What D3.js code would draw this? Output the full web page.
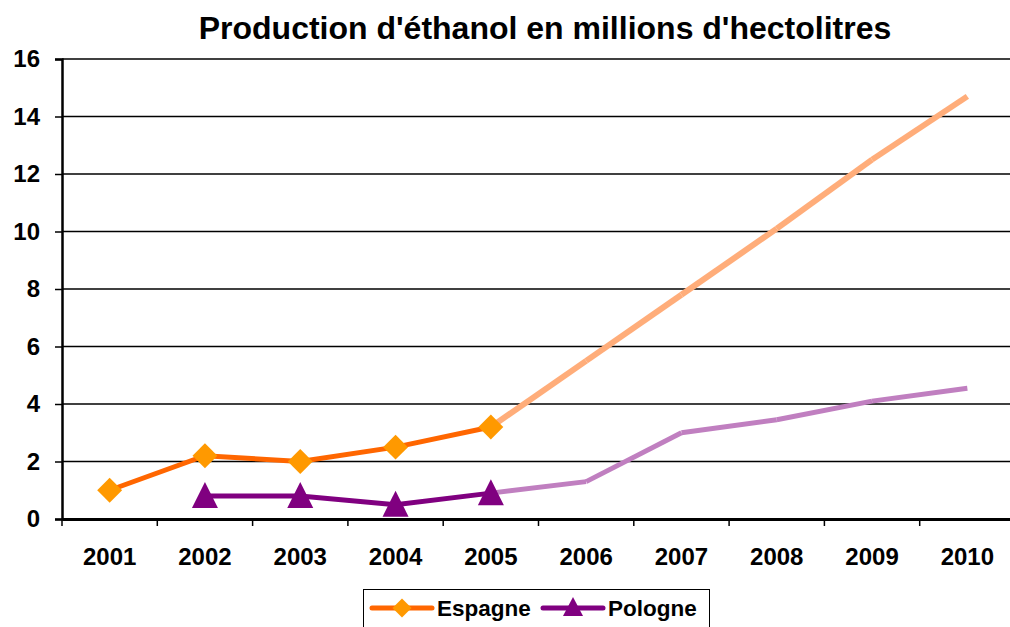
<!DOCTYPE html>
<html>
<head>
<meta charset="utf-8">
<script src="https://cdn.jsdelivr.net/npm/d3@7"></script>
<style>
  html, body { margin: 0; padding: 0; background: #fff; }
  svg { display: block; font-family: "Liberation Sans", Arial, sans-serif; }
</style>
</head>
<body>
<svg id="chart" width="1010" height="627"></svg>
<script>
const title = "Production d'éthanol en millions d'hectolitres";
const years = ["2001","2002","2003","2004","2005","2006","2007","2008","2009","2010"];
const yTicks = [0, 2, 4, 6, 8, 10, 12, 14, 16];
// Observed values (dark line with markers)
const espagneObs = [1.0, 2.2, 2.0, 2.5, 3.2, null, null, null, null, null];
const pologneObs = [null, 0.8, 0.8, 0.5, 0.9, null, null, null, null, null];
// Projected values (light line, no markers), starting at 2005
const espagneProj = [null, null, null, null, 3.2, 5.5, 7.8, 10.1, 12.5, 14.7];
const pologneProj = [null, null, null, null, 0.9, 1.3, 3.0, 3.45, 4.1, 4.55];

const svg = d3.select("#chart");
const margin = { left: 62, right: -5, top: 59, bottom: 108 };
const W = 1010, H = 627;
const FONT = "Liberation Sans, Arial, sans-serif";

const x = d3.scaleBand().domain(years).range([margin.left, W - margin.right]).padding(0);
const y = d3.scaleLinear().domain([0, 16]).range([H - margin.bottom, margin.top]);

// Gridlines
svg.append("g").selectAll("line").data(yTicks.filter(d => d > 0)).join("line")
  .attr("x1", margin.left).attr("x2", W - margin.right)
  .attr("y1", d => y(d)).attr("y2", d => y(d))
  .attr("stroke", "#000").attr("stroke-width", 1.5);

// Y axis
const yAxis = svg.append("g").attr("transform", `translate(${margin.left},0)`)
  .call(d3.axisLeft(y).tickValues(yTicks).tickSize(7).tickPadding(15));
yAxis.select(".domain").attr("stroke", "#000").attr("stroke-width", 2.5);
yAxis.selectAll(".tick line").attr("stroke", "#000").attr("stroke-width", 1.5);
yAxis.selectAll("text").attr("font-size", 24).attr("font-weight", "bold").attr("fill", "#000")
  .attr("font-family", FONT);

// X axis
const xAxis = svg.append("g").attr("transform", `translate(0,${y(0)})`)
  .call(d3.axisBottom(x).tickSize(0).tickPadding(29));
xAxis.select(".domain").attr("stroke", "#000").attr("stroke-width", 3);
xAxis.selectAll("text").attr("font-size", 24).attr("font-weight", "bold").attr("fill", "#000")
  .attr("font-family", FONT);
// tick marks at band boundaries
const boundaries = years.map(d => x(d)).concat([x(years[years.length - 1]) + x.bandwidth()]);
svg.append("g").selectAll("line").data(boundaries).join("line")
  .attr("x1", d => d).attr("x2", d => d)
  .attr("y1", y(0)).attr("y2", y(0) + 7)
  .attr("stroke", "#000").attr("stroke-width", 1.5);

const cx = d => x(d) + x.bandwidth() / 2;

function points(vals) {
  return years.map((yr, i) => ({ yr, v: vals[i] })).filter(p => p.v != null);
}

function drawLine(vals, color, width) {
  const pts = points(vals);
  const line = d3.line().x(p => cx(p.yr)).y(p => y(p.v));
  svg.append("path").datum(pts).attr("d", line)
    .attr("fill", "none").attr("stroke", color).attr("stroke-width", width)
    .attr("stroke-linejoin", "miter");
  return pts;
}

// Segmented (each segment drawn separately, butt ends) for projections
function drawSegments(vals, color, width) {
  const pts = points(vals);
  const segs = d3.pairs(pts);
  svg.append("g").selectAll("path").data(segs).join("path")
    .attr("d", s => d3.line().x(p => cx(p.yr)).y(p => y(p.v))(s))
    .attr("fill", "none").attr("stroke", color).attr("stroke-width", width)
    .attr("stroke-linecap", "butt");
}

// Projections first
drawSegments(espagneProj, "#FFAD7A", 6);
drawSegments(pologneProj, "#C07FC0", 5);

// Observed
const espPts = drawLine(espagneObs, "#FF6600", 5);
const polPts = drawLine(pologneObs, "#800080", 5);

// Markers
const diamond = d3.symbol().type(d3.symbolSquare).size(310);
svg.append("g").selectAll("path").data(espPts).join("path")
  .attr("d", diamond)
  .attr("transform", p => `translate(${cx(p.yr)},${y(p.v)}) rotate(45)`)
  .attr("fill", "#FF9900");

const tri = (px, py) => `M${px},${py - 14}L${px + 13},${py + 12}L${px - 13},${py + 12}Z`;
svg.append("g").selectAll("path").data(polPts).join("path")
  .attr("d", p => tri(cx(p.yr), y(p.v)))
  .attr("fill", "#800080");

// Title
svg.append("text").attr("x", 545).attr("y", 39).attr("text-anchor", "middle")
  .attr("font-size", 32).attr("font-weight", "bold").attr("fill", "#000")
  .attr("font-family", FONT)
  .text(title);

// Legend
const lg = svg.append("g");
lg.append("rect").attr("x", 363.5).attr("y", 589.5).attr("width", 346).attr("height", 50)
  .attr("fill", "#fff").attr("stroke", "#000").attr("stroke-width", 1);
const legendItems = [
  { name: "Espagne", color: "#FF6600", marker: "#FF9900", type: "diamond", x0: 372 },
  { name: "Pologne", color: "#800080", marker: "#800080", type: "tri", x0: 543 }
];
const ly = 608;
legendItems.forEach(it => {
  lg.append("line").attr("x1", it.x0).attr("x2", it.x0 + 60).attr("y1", ly).attr("y2", ly)
    .attr("stroke", it.color).attr("stroke-width", 5).attr("stroke-linecap", "round");
  const mx = it.x0 + 30;
  if (it.type === "diamond") {
    lg.append("path").attr("d", d3.symbol().type(d3.symbolSquare).size(180))
      .attr("transform", `translate(${mx},${ly}) rotate(45)`).attr("fill", it.marker);
  } else {
    lg.append("path").attr("d", `M${mx},${ly - 11}L${mx + 10},${ly + 8}L${mx - 10},${ly + 8}Z`)
      .attr("fill", it.marker);
  }
  lg.append("text").attr("x", it.x0 + 65).attr("y", ly).attr("dy", "0.36em")
    .attr("font-size", 22.5).attr("font-weight", "bold").attr("fill", "#000")
    .attr("font-family", FONT).text(it.name);
});
</script>
</body>
</html>
